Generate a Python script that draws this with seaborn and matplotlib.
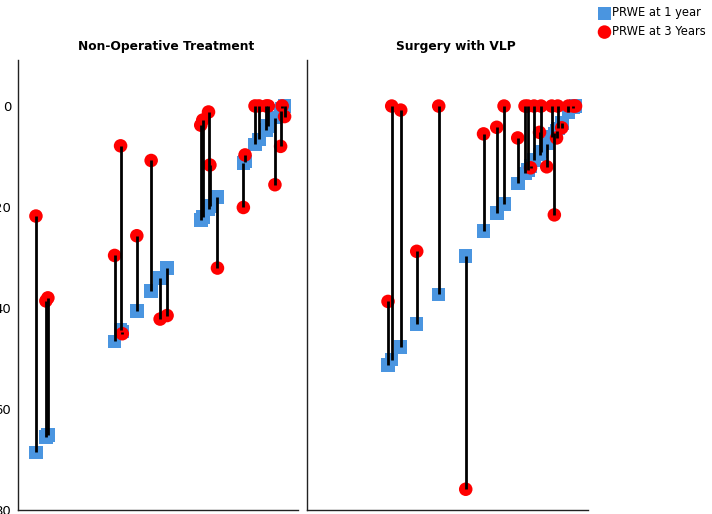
import numpy as np
import pandas as pd
import matplotlib.pyplot as plt
import seaborn as sns

# position of each patient along the (unlabelled) x axis, PRWE at 1 and 3 years
nonop_x = [18, 28, 30, 97, 103, 104.7, 119.3, 133.7, 142.7, 149.7, 183.5, 185.5, 191.3,
           192.7, 200.3, 226.3, 228, 238, 242, 249.3, 251.3, 258, 263.7, 265.3, 267.7]
nonop_1yr = [68.6, 65.6, 65.2, 46.6, 44.3, 44.7, 40.6, 36.6, 34.1, 32.1, 22.6, 22.0, 20.5,
             19.8, 18.0, 11.3, 11.0, 7.6, 6.6, 4.8, 4.0, 2.3, 1.0, 0.5, 0.0]
nonop_3yr = [21.8, 38.6, 38.0, 29.6, 7.9, 45.1, 25.7, 10.8, 42.2, 41.5, 3.8, 2.8, 1.2,
             11.7, 32.1, 20.1, 9.7, 0, 0, 0, 0, 15.6, 8.0, 0, 2.1]

vlp_x = [81, 84.7, 93.7, 109.7, 131.7, 158.7, 176.5, 189.7, 197, 210.7, 218, 220.7, 223.5,
         227, 232.5, 234, 239.7, 244.7, 247.3, 249.5, 250.7, 254.7, 261.3, 266.3, 268.5]
vlp_1yr = [51.2, 50.1, 47.6, 43.1, 37.2, 29.6, 24.7, 21.1, 19.3, 15.3, 13.3, 12.6, 11.8,
           10.7, 9.6, 9.0, 7.4, 6.1, 5.4, 4.9, 4.4, 3.4, 1.2, 0.3, 0.0]
vlp_3yr = [38.6, 0, 0.8, 28.7, 0, 75.7, 5.5, 4.2, 0, 6.3, 0, 0, 12.2,
           0, 5.2, 0, 12.0, 0, 21.5, 6.3, 0, 4.3, 0, 0, 0]

titles = ["Non-Operative Treatment", "Surgery with VLP"]
blue = "#4a95e0"
red = "#ff0000"


def draw_panel(ax, x, y1, y3, title):
    """Squares at 1 year, circles at 3 years, joined by a black line."""
    df = pd.DataFrame({"x": x, "y1": y1, "y3": y3})
    sns.scatterplot(data=df, x="x", y="y1", ax=ax, marker="s", s=95, color=blue,
                    edgecolor="none", zorder=2, label="PRWE at 1 year")
    sns.scatterplot(data=df, x="x", y="y3", ax=ax, marker="o", s=95, color=red,
                    edgecolor="none", zorder=3, label="PRWE at 3 Years")
    ax.vlines(df["x"], df["y1"], df["y3"], color="black", linewidth=2, zorder=4)
    ax.set_title(title, fontsize=8.8, fontweight="bold", pad=7, color="black", x=0.53)
    ax.set_xlim(0, 281)
    ax.set_ylim(79.8, -9.1)
    ax.set_xlabel("")
    ax.set_ylabel("")
    ax.set_xticks([])
    for side in ["top", "right"]:
        ax.spines[side].set_visible(False)
    for side in ["left", "bottom"]:
        ax.spines[side].set_color("#222222")
        ax.spines[side].set_linewidth(1)
    ax.tick_params(axis="y", length=0, labelsize=9.5, pad=5, labelcolor="black")
    ax.get_legend().remove()


sns.set_style("white")
plt.rcParams["text.color"] = "black"
fig = plt.figure(figsize=(7.12, 5.14), dpi=100)
ax1 = fig.add_axes([0.0253, 0.0078, 0.393, 0.8755])
ax2 = fig.add_axes([0.4312, 0.0078, 0.3947, 0.8755])

draw_panel(ax1, nonop_x, nonop_1yr, nonop_3yr, titles[0])
draw_panel(ax2, vlp_x, vlp_1yr, vlp_3yr, titles[1])
ax1.set_yticks([0, 20, 40, 60, 80])
ax2.set_yticks([])

handles, labels = ax1.get_legend_handles_labels()
fig.legend(handles[:2], labels[:2], loc="upper left", bbox_to_anchor=(0.832, 1.0),
           frameon=False, fontsize=8.3, handletextpad=0.15, borderaxespad=0.2,
           borderpad=0.35, labelspacing=0.5, handlelength=1.0, markerscale=1.0)

fig.savefig("out.png", dpi=100)
